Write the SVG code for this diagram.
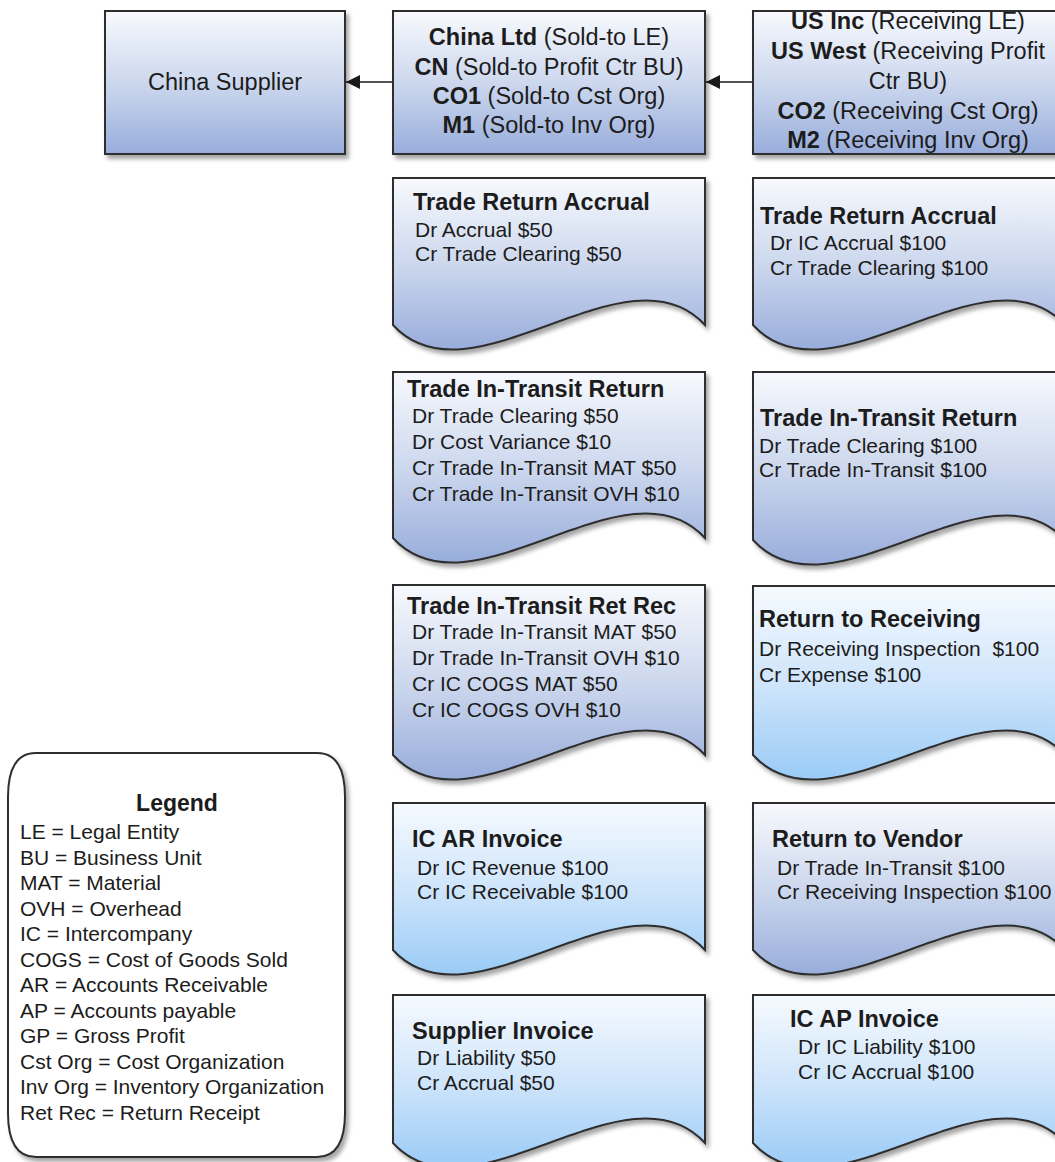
<svg xmlns="http://www.w3.org/2000/svg" width="1055" height="1162" viewBox="0 0 1055 1162">
<style>
text{font-family:"Liberation Sans",Arial,sans-serif;fill:#1c1c1c;white-space:pre}
.box{stroke:#2e2e2e;stroke-width:2}
.top{font-size:23.5px}
.b{font-weight:bold}
.h{font-size:23.5px;font-weight:bold}
.t{font-size:21px}
.lg{font-size:21px}
.conn{stroke:#1a1a1a;stroke-width:1.6;fill:none}
</style>
<defs>
<linearGradient id="pw" x1="0" y1="0" x2="0" y2="1">
<stop offset="0" stop-color="#f7f9fd"/>
<stop offset="0.5" stop-color="#cdd8ee"/>
<stop offset="1" stop-color="#98addb"/>
</linearGradient>
<linearGradient id="sky" x1="0" y1="0" x2="0" y2="1">
<stop offset="0" stop-color="#f6fafe"/>
<stop offset="0.5" stop-color="#cfe5fb"/>
<stop offset="1" stop-color="#9acbf6"/>
</linearGradient>
<filter id="sh" x="-5%" y="-5%" width="115%" height="125%">
<feDropShadow dx="3" dy="4" stdDeviation="2" flood-color="#000" flood-opacity="0.35"/>
</filter>
<marker id="ah" markerWidth="15" markerHeight="14" refX="14" refY="7" orient="auto" markerUnits="userSpaceOnUse">
<path d="M0,0 L14,7 L0,14 Z" fill="#1a1a1a"/>
</marker>
</defs>

<g id="connectors">
<line class="conn" x1="753" y1="82" x2="706" y2="82" marker-end="url(#ah)"/>
<line class="conn" x1="393" y1="82" x2="346" y2="82" marker-end="url(#ah)"/>
</g>

<g id="china-supplier">
<rect class="box" x="105" y="11" width="240" height="143" fill="url(#pw)" filter="url(#sh)"/>
<text class="top" x="225" y="90" text-anchor="middle">China Supplier</text>
</g>

<g id="china-ltd">
<rect class="box" x="393" y="11" width="312" height="143" fill="url(#pw)" filter="url(#sh)"/>
<text class="top" x="549" y="45" text-anchor="middle"><tspan class="b">China Ltd</tspan> (Sold-to LE)</text>
<text class="top" x="549" y="74.5" text-anchor="middle"><tspan class="b">CN</tspan> (Sold-to Profit Ctr BU)</text>
<text class="top" x="549" y="104" text-anchor="middle"><tspan class="b">CO1</tspan> (Sold-to Cst Org)</text>
<text class="top" x="549" y="133" text-anchor="middle"><tspan class="b">M1</tspan> (Sold-to Inv Org)</text>
</g>

<g id="us-inc">
<rect class="box" x="753" y="11" width="312" height="143" fill="url(#pw)" filter="url(#sh)"/>
<text class="top" x="908" y="29" text-anchor="middle"><tspan class="b">US Inc</tspan> (Receiving LE)</text>
<text class="top" x="908" y="59" text-anchor="middle"><tspan class="b">US West</tspan> (Receiving Profit</text>
<text class="top" x="908" y="89" text-anchor="middle">Ctr BU)</text>
<text class="top" x="908" y="119" text-anchor="middle"><tspan class="b">CO2</tspan> (Receiving Cst Org)</text>
<text class="top" x="908" y="148" text-anchor="middle"><tspan class="b">M2</tspan> (Receiving Inv Org)</text>
</g>

<g id="doc-l1">
<path class="box" d="M393,178 H705 V325 C627,240 471,410 393,325 Z" fill="url(#pw)" filter="url(#sh)"/>
<text class="h" x="413" y="210">Trade Return Accrual</text>
<text class="t" x="415" y="237">Dr Accrual $50</text>
<text class="t" x="415" y="261">Cr Trade Clearing $50</text>
</g>

<g id="doc-r1">
<path class="box" d="M753,178 H1065 V325 C987,240 831,410 753,325 Z" fill="url(#pw)" filter="url(#sh)"/>
<text class="h" x="760" y="224">Trade Return Accrual</text>
<text class="t" x="770" y="250">Dr IC Accrual $100</text>
<text class="t" x="770" y="275">Cr Trade Clearing $100</text>
</g>

<g id="doc-l2">
<path class="box" d="M393,372 H705 V538 C627,453 471,623 393,538 Z" fill="url(#pw)" filter="url(#sh)"/>
<text class="h" x="407" y="397">Trade In-Transit Return</text>
<text class="t" x="412" y="423">Dr Trade Clearing $50</text>
<text class="t" x="412" y="449">Dr Cost Variance $10</text>
<text class="t" x="412" y="475">Cr Trade In-Transit MAT $50</text>
<text class="t" x="412" y="501">Cr Trade In-Transit OVH $10</text>
</g>

<g id="doc-r2">
<path class="box" d="M753,372 H1065 V540 C987,455 831,625 753,540 Z" fill="url(#pw)" filter="url(#sh)"/>
<text class="h" x="760" y="426">Trade In-Transit Return</text>
<text class="t" x="759" y="453">Dr Trade Clearing $100</text>
<text class="t" x="759" y="477">Cr Trade In-Transit $100</text>
</g>

<g id="doc-l3">
<path class="box" d="M393,585 H705 V755 C627,670 471,840 393,755 Z" fill="url(#pw)" filter="url(#sh)"/>
<text class="h" x="407" y="614">Trade In-Transit Ret Rec</text>
<text class="t" x="412" y="639">Dr Trade In-Transit MAT $50</text>
<text class="t" x="412" y="665">Dr Trade In-Transit OVH $10</text>
<text class="t" x="412" y="691">Cr IC COGS MAT $50</text>
<text class="t" x="412" y="717">Cr IC COGS OVH $10</text>
</g>

<g id="doc-r3">
<path class="box" d="M753,586 H1065 V755 C987,670 831,840 753,755 Z" fill="url(#sky)" filter="url(#sh)"/>
<text class="h" x="759" y="627">Return to Receiving</text>
<text class="t" x="759" y="656">Dr Receiving Inspection  $100</text>
<text class="t" x="759" y="682">Cr Expense $100</text>
</g>

<g id="doc-l4">
<path class="box" d="M393,803 H705 V950 C627,865 471,1035 393,950 Z" fill="url(#sky)" filter="url(#sh)"/>
<text class="h" x="412" y="847">IC AR Invoice</text>
<text class="t" x="417" y="875">Dr IC Revenue $100</text>
<text class="t" x="417" y="899">Cr IC Receivable $100</text>
</g>

<g id="doc-r4">
<path class="box" d="M753,803 H1065 V950 C987,865 831,1035 753,950 Z" fill="url(#pw)" filter="url(#sh)"/>
<text class="h" x="772" y="847">Return to Vendor</text>
<text class="t" x="777" y="875">Dr Trade In-Transit $100</text>
<text class="t" x="777" y="899">Cr Receiving Inspection $100</text>
</g>

<g id="doc-l5">
<path class="box" d="M393,995 H705 V1143 C627,1058 471,1228 393,1143 Z" fill="url(#sky)" filter="url(#sh)"/>
<text class="h" x="412" y="1039">Supplier Invoice</text>
<text class="t" x="417" y="1065">Dr Liability $50</text>
<text class="t" x="417" y="1090">Cr Accrual $50</text>
</g>

<g id="doc-r5">
<path class="box" d="M753,995 H1065 V1143 C987,1058 831,1228 753,1143 Z" fill="url(#sky)" filter="url(#sh)"/>
<text class="h" x="790" y="1027">IC AP Invoice</text>
<text class="t" x="798" y="1054">Dr IC Liability $100</text>
<text class="t" x="798" y="1079">Cr IC Accrual $100</text>
</g>

<g id="legend">
<path class="box" d="M36,753 H317 Q345,753 345,797 V1113 Q345,1157 317,1157 H36 Q8,1157 8,1113 V797 Q8,753 36,753 Z" fill="#ffffff" filter="url(#sh)"/>
<text class="h" x="177" y="811" text-anchor="middle" style="font-size:23px">Legend</text>
<text class="lg" x="20" y="839">LE = Legal Entity</text>
<text class="lg" x="20" y="864.5">BU = Business Unit</text>
<text class="lg" x="20" y="890">MAT = Material</text>
<text class="lg" x="20" y="915.5">OVH = Overhead</text>
<text class="lg" x="20" y="941">IC = Intercompany</text>
<text class="lg" x="20" y="966.5">COGS = Cost of Goods Sold</text>
<text class="lg" x="20" y="992">AR = Accounts Receivable</text>
<text class="lg" x="20" y="1017.5">AP = Accounts payable</text>
<text class="lg" x="20" y="1043">GP = Gross Profit</text>
<text class="lg" x="20" y="1068.5">Cst Org = Cost Organization</text>
<text class="lg" x="20" y="1094">Inv Org = Inventory Organization</text>
<text class="lg" x="20" y="1119.5">Ret Rec = Return Receipt</text>
</g>
</svg>
